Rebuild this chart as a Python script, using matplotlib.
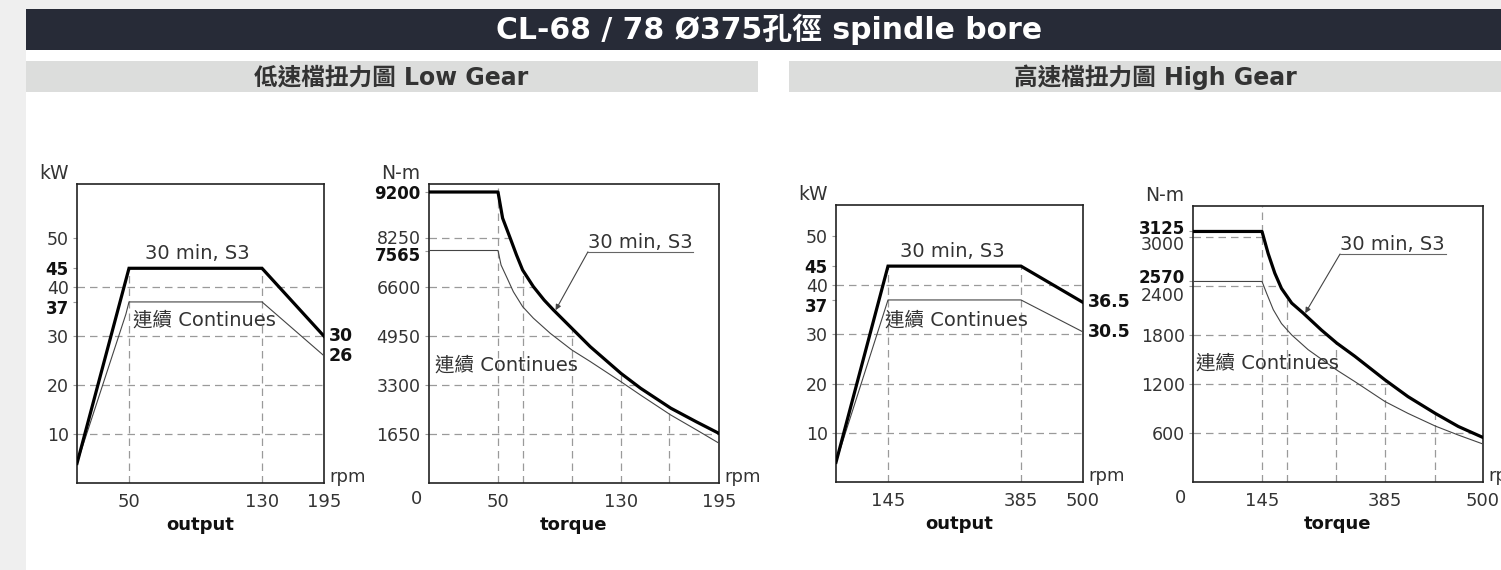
import numpy as np
import matplotlib
matplotlib.use('Agg')
import matplotlib.pyplot as plt
from matplotlib.patches import Rectangle, Polygon
from matplotlib.transforms import ScaledTranslation

plt.rcParams['font.family'] = ['DejaVu Sans', 'Noto Sans CJK TC']

# ---------------- data ----------------
title = 'CL-68 / 78 Ø375孔徑 spindle bore'
low_title = '低速檔扭力圖 Low Gear'
high_title = '高速檔扭力圖 High Gear'
s3_label = '30 min, S3'
cont_label = '連續 Continues'

low_rpm_ticks = [50, 130, 195]
high_rpm_ticks = [145, 385, 500]

kw_ticks = [10, 20, 30, 37, 40, 45, 50]
kw_bold = [37, 45]
kw_grid = [10, 20, 30, 40]

low_out_rpm = [0, 50, 130, 195]
low_out_s3 = [4, 45, 45, 30]
low_out_cont_rpm = [0, 47, 50, 130, 195]
low_out_cont = [4, 34.5, 37, 37, 26]

high_out_rpm = [0, 145, 385, 500]
high_out_s3 = [4, 45, 45, 36.5]
high_out_cont_rpm = [0, 134, 145, 385, 500]
high_out_cont = [4, 34.5, 37, 37, 30.5]

low_tq_ticks = [1650, 3300, 4950, 6600, 7565, 8250, 9200]
low_tq_bold = [7565, 9200]
low_tq_grid = [1650, 3300, 4950, 6600, 8250]
low_tq_vgrid = [50, 66, 98, 130, 162]
low_tq_s3_rpm = [0, 50, 53, 58, 62, 66, 73, 80, 86, 98, 110, 130, 143, 163, 180, 195]
low_tq_s3 = [9200, 9200, 8660, 8230, 7450, 7050, 6610, 6160, 5830, 5210, 4590, 3690,
             3190, 2520, 2060, 1670]
low_tq_cont_rpm = [0, 50, 52, 56, 60, 66, 73, 84, 98, 110, 130, 143, 163, 180, 195]
low_tq_cont = [7565, 7565, 7180, 6830, 6440, 5940, 5550, 5040, 4480, 4090, 3410, 2960,
               2290, 1790, 1340]

high_tq_ticks = [600, 1200, 1800, 2400, 2570, 3000, 3125]
high_tq_bold = [2570, 3125]
high_tq_grid = [600, 1200, 1800, 2400, 3000]
high_tq_vgrid = [145, 194, 290, 385, 444]
high_tq_s3_rpm = [0, 145, 157, 170, 183, 203, 225, 261, 291, 326, 385, 412, 444, 471, 500]
high_tq_s3 = [3125, 3125, 2840, 2650, 2370, 2190, 2070, 1860, 1700, 1540, 1250, 1045,
              840, 680, 545]
high_tq_cont_rpm = [0, 145, 154, 167, 183, 203, 235, 291, 326, 385, 412, 444, 471, 500]
high_tq_cont = [2570, 2570, 2310, 2110, 1940, 1800, 1620, 1370, 1230, 985, 840, 685,
                575, 465]

# ---------------- layout (pixels of the 1501x570 picture) ----------------
W, H = 1501, 570
fig = plt.figure(figsize=(W / 100, H / 100), dpi=100, facecolor='white')


def box(x0, y0, x1, y1):
    return [x0 / W, 1 - y1 / H, (x1 - x0) / W, (y1 - y0) / H]


def rect(x0, y0, x1, y1, color):
    l, b, w, h = box(x0, y0, x1, y1)
    fig.add_artist(Rectangle((l, b), w, h, transform=fig.transFigure,
                             facecolor=color, edgecolor='none', zorder=0))


rect(0, 0, W, 9, '#efefef')
rect(0, 0, 26, H, '#efefef')
rect(26, 9, W, 50, '#272b37')
rect(26, 61, 758, 92, '#dcdddc')
rect(789, 61, W, 92, '#dcdddc')
fig.text(769 / W, 1 - 29 / H, title, color='white', fontsize=21.5,
         fontweight='bold', ha='center', va='center')
fig.text(391 / W, 1 - 77 / H, low_title, color='#333333', fontsize=17,
         fontweight='bold', ha='center', va='center')
fig.text(1155 / W, 1 - 77 / H, high_title, color='#333333', fontsize=17,
         fontweight='bold', ha='center', va='center')

GRID = dict(color='#9a9a9a', lw=0.9, ls=(0, (6, 4)), zorder=1)


def knots(vals, pos):
    return (lambda v: np.interp(v, vals, pos), lambda p: np.interp(p, pos, vals))


def nudge(ax, shifts):
    for lab, val in zip(ax.get_yticklabels(), ax.get_yticks()):
        dy = shifts.get(int(round(val)), 0)
        if dy:
            lab.set_transform(lab.get_transform() +
                              ScaledTranslation(0, dy / 100, fig.dpi_scale_trans))


def setup(ax, xt, xmax, yt, ybold, ymax, unit, xlabel):
    ax.set_xlim(0, xmax)
    ax.set_ylim(0, ymax)
    ax.set_xticks(xt)
    ax.set_xticklabels([str(v) for v in xt])
    ax.set_yticks(yt)
    ax.set_yticklabels([str(v) for v in yt])
    ax.tick_params(axis='x', length=0, pad=7, labelsize=13, colors='#333333')
    ax.tick_params(axis='y', length=3, width=0.8, color='#9a9a9a', pad=3,
                   labelsize=12.5, labelcolor='#333333')
    for lab, v in zip(ax.get_yticklabels(), yt):
        if v in ybold:
            lab.set_fontweight('bold')
            lab.set_color('#111111')
            lab.set_fontsize(12)
    for s in ax.spines.values():
        s.set_color('#222222')
        s.set_linewidth(1.2)
    ax.set_xlabel(xlabel, fontsize=13, fontweight='bold', labelpad=4, color='#111111')
    ax.annotate(unit, xy=(0, 1), xycoords='axes fraction', xytext=(-6, 1),
                textcoords='offset points', ha='right', va='bottom',
                fontsize=13.5, color='#333333')
    ax.annotate('rpm', xy=(1, 0), xycoords='axes fraction', xytext=(4, -2),
                textcoords='offset points', ha='left', va='bottom',
                fontsize=13, color='#333333')


def under_curve(ax, xs, ys, xmax):
    poly = Polygon(np.column_stack([np.r_[xs, xmax, 0], np.r_[ys, 0, 0]]),
                   closed=True, facecolor='none', edgecolor='none',
                   transform=ax.transData)
    ax.add_patch(poly)
    return poly


def output_panel(pos, xk, rpm_ticks, rpm, s3, crpm, cont, ymax, s3x, contxy):
    ax = fig.add_axes(box(*pos))
    ax.set_xscale('function', functions=knots(xk, [0, 52, 185, 247]))
    ax.set_yscale('function', functions=knots([0, 40, 45, 50, 70], [0, 196, 215, 245, 343]))
    xmax = rpm[-1]
    setup(ax, rpm_ticks, xmax, kw_ticks, kw_bold, ymax, 'kW', 'output')
    nudge(ax, {37: -5})
    poly = under_curve(ax, rpm, s3, xmax)
    for v in kw_grid:
        ax.plot([0, xmax], [v, v], **GRID)
    for v in rpm_ticks[:-1]:
        ln, = ax.plot([v, v], [0, ymax], **GRID)
        ln.set_clip_path(poly)
    ax.plot(crpm, cont, color='#444444', lw=0.8, zorder=3)
    ax.plot(rpm, s3, color='black', lw=2.3, zorder=4, solid_joinstyle='miter')
    for v in (s3[-1], cont[-1]):
        ax.annotate(f'{v:g}', xy=(xmax, v), xytext=(3.5, 0), textcoords='offset points',
                    ha='left', va='center', fontsize=12.5, fontweight='bold',
                    color='#111111', annotation_clip=False)
    ax.annotate(s3_label, xy=(s3x, 45), xycoords=('axes fraction', 'data'),
                xytext=(0, 4), textcoords='offset points', ha='center', va='bottom',
                fontsize=14, color='#333333')
    ax.text(contxy[0], contxy[1], cont_label, transform=ax.transAxes,
            ha='left', va='center', fontsize=14, color='#333333')
    return ax


def torque_panel(pos, xk, yk, rpm_ticks, yt, ybold, ymax, hgrid, vgrid, rpm, s3,
                 crpm, cont, call, tip_rpm, contxy, shifts):
    ax = fig.add_axes(box(*pos))
    ax.set_xscale('function', functions=knots(xk, [0, 69, 192, 290]))
    ax.set_yscale('function', functions=knots(*yk))
    xmax = rpm[-1]
    setup(ax, rpm_ticks, xmax, yt, ybold, ymax, 'N-m', 'torque')
    nudge(ax, shifts)
    ax.annotate('0', xy=(0, 0), xycoords='axes fraction', xytext=(-9, -5),
                textcoords='offset points', ha='center', va='top',
                fontsize=13, color='#333333')
    poly = under_curve(ax, rpm, s3, xmax)
    for v in hgrid:
        ln, = ax.plot([0, xmax], [v, v], **GRID)
        ln.set_clip_path(poly)
    for i, v in enumerate(vgrid):
        ln, = ax.plot([v, v], [0, ymax], **GRID)
        if i > 0:
            ln.set_clip_path(poly)
    ax.plot(crpm, cont, color='#444444', lw=0.8, zorder=3)
    ax.plot(rpm, s3, color='black', lw=2.3, zorder=4)
    # callout: underline, label and leader arrow onto the S3 curve
    ax.plot([call[0], call[1]], [call[2], call[2]], transform=ax.transAxes,
            color='#666666', lw=0.8, zorder=5)
    ax.text(call[0], call[2], s3_label, transform=ax.transAxes, ha='left',
            va='bottom', fontsize=14, color='#333333')
    ax.annotate('', xy=(tip_rpm, np.interp(tip_rpm, rpm, s3)), xycoords='data',
                xytext=(call[0], call[2]), textcoords='axes fraction',
                arrowprops=dict(arrowstyle='-|>', color='#444444', lw=0.8,
                                mutation_scale=8, shrinkA=0, shrinkB=1))
    ax.text(contxy[0], contxy[1], cont_label, transform=ax.transAxes,
            ha='left', va='center', fontsize=14, color='#333333')
    return ax


output_panel((77, 184, 324, 483), [0, 50, 130, 195], low_rpm_ticks,
             low_out_rpm, low_out_s3, low_out_cont_rpm, low_out_cont,
             61.1, 0.486, (0.225, 0.545))
output_panel((836, 205, 1083, 482), [0, 145, 385, 500], high_rpm_ticks,
             high_out_rpm, high_out_s3, high_out_cont_rpm, high_out_cont,
             56.3, 0.47, (0.2, 0.585))

torque_panel((429, 184, 719, 483), [0, 50, 130, 195],
             ([0, 6600, 7565, 8250, 9200, 9600], [0, 196, 232.5, 245, 291, 310.4]),
             low_rpm_ticks, low_tq_ticks, low_tq_bold, 9365,
             low_tq_grid, low_tq_vgrid, low_tq_s3_rpm, low_tq_s3,
             low_tq_cont_rpm, low_tq_cont, (0.548, 0.91, 0.773), 87,
             (0.02, 0.395), {8250: 1, 7565: -3})
torque_panel((1193, 206, 1483, 482), [0, 145, 385, 500],
             ([0, 2400, 2570, 3000, 3125, 3500], [0, 196, 200.5, 245, 250.5, 281.1]),
             high_rpm_ticks, high_tq_ticks, high_tq_bold, 3437,
             high_tq_grid, high_tq_vgrid, high_tq_s3_rpm, high_tq_s3,
             high_tq_cont_rpm, high_tq_cont, (0.507, 0.872, 0.826), 228,
             (0.01, 0.431), {3125: 4, 3000: -6, 2570: 5, 2400: -8})

fig.savefig('out.png', dpi=100, facecolor='white')
